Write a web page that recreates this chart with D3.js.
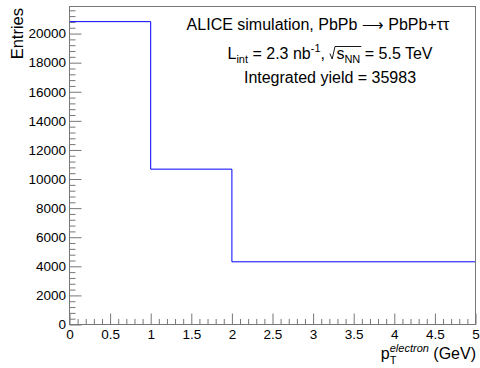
<!DOCTYPE html>
<html>
<head>
<meta charset="utf-8">
<script src="https://cdn.jsdelivr.net/npm/d3@7"></script>
<style>
  body { margin: 0; background: #fff; }
  text { font-family: "Liberation Sans", Arial, Helvetica, sans-serif; fill: #000; white-space: pre; }
</style>
</head>
<body>
<svg id="chart" width="480" height="368"></svg>
<script>
// DATA
const binEdges = [0, 1, 2, 5];
const binCounts = [20820, 10680, 4310];
const xTicks = [0, 0.5, 1, 1.5, 2, 2.5, 3, 3.5, 4, 4.5, 5];
const yTicks = [0, 2000, 4000, 6000, 8000, 10000, 12000, 14000, 16000, 18000, 20000];
const xMinorStep = 0.1;
const yMinorStep = 400;
const yieldValue = 35983;

// frame
const frame = { left: 69.5, right: 475.5, top: 6.5, bottom: 324.5 };
const axisColor = "#777";

const svg = d3.select("#chart");

const x = d3.scaleLinear().domain([0, 5]).range([frame.left, frame.right]);
const yMax = d3.max(binCounts) * 1.05;
const y = d3.scaleLinear().domain([0, yMax]).range([frame.bottom, frame.top]);

const xMinor = d3.range(0, 5 + 1e-9, xMinorStep).filter(v => Math.abs(v * 2 - Math.round(v * 2)) > 1e-6);
const yMinor = d3.range(0, yMax, yMinorStep).filter(v => v % 2000 !== 0);

// AXES (ticks point inward like ROOT)
function styleAxis(g) {
  g.select(".domain").remove();
  g.selectAll("line").attr("stroke", axisColor);
  g.selectAll("text").style("font-size", "13.5px").attr("fill", "#000");
}

svg.append("g")
  .attr("transform", `translate(0,${frame.bottom})`)
  .call(d3.axisBottom(x).tickValues(xMinor).tickFormat("").tickSizeInner(-5.5).tickSizeOuter(0))
  .call(styleAxis);
svg.append("g")
  .attr("transform", `translate(0,${frame.bottom})`)
  .call(d3.axisBottom(x).tickValues(xTicks).tickFormat(d3.format("")).tickSizeInner(-11).tickSizeOuter(0).tickPadding(4.5))
  .call(styleAxis);

svg.append("g")
  .attr("transform", `translate(${frame.left},0)`)
  .call(d3.axisLeft(y).tickValues(yMinor).tickFormat("").tickSizeInner(-6).tickSizeOuter(0))
  .call(styleAxis);
svg.append("g")
  .attr("transform", `translate(${frame.left},0)`)
  .call(d3.axisLeft(y).tickValues(yTicks).tickFormat(d3.format("d")).tickSizeInner(-12).tickSizeOuter(0).tickPadding(3.5))
  .call(styleAxis);

// HISTOGRAM as a step line
const stepPoints = binCounts.map((c, i) => [binEdges[i], c]);
stepPoints.push([binEdges[binEdges.length - 1], binCounts[binCounts.length - 1]]);
svg.append("path")
  .datum(stepPoints)
  .attr("fill", "none")
  .attr("stroke", "#0000ff")
  .attr("stroke-width", 1)
  .attr("d", d3.line().x(d => x(d[0])).y(d => y(d[1])).curve(d3.curveStepAfter));

// FRAME
svg.append("rect")
  .attr("x", frame.left).attr("y", frame.top)
  .attr("width", frame.right - frame.left).attr("height", frame.bottom - frame.top)
  .attr("fill", "none").attr("stroke", axisColor);

// rich text: parts laid out one after another, returns marks
function richText(parts, cx, baseY, align) {
  const g = svg.append("g");
  let cur = 0;
  const marks = {};
  parts.forEach(p => {
    if (p.gap) { if (p.mark) marks[p.mark] = cur; cur += p.gap; return; }
    const items = p.stack || [p];
    let w = 0;
    items.forEach(it => {
      const t = g.append("text")
        .attr("x", cur).attr("y", it.dy || 0)
        .attr("xml:space", "preserve")
        .style("font-size", (it.size || 16) + "px")
        .text(it.t);
      if (it.italic) t.style("font-style", "italic");
      w = Math.max(w, t.node().getComputedTextLength());
    });
    if (p.mark) marks[p.mark] = cur;
    cur += w;
    if (p.markEnd) marks[p.markEnd] = cur;
  });
  const x0 = align === "end" ? cx - cur : cx - cur / 2;
  g.attr("transform", `translate(${x0},${baseY})`);
  return { g, marks };
}

// TITLE TEXT
richText([
  { t: "ALICE simulation, PbPb " },
  { t: "\u27F6", size: 15, dy: -0.5 },
  { t: " PbPb+\u03c4\u03c4" }
], 318, 30);

const lumi = richText([
  { t: "L" },
  { t: "int", size: 11, dy: 4 },
  { t: " = 2.3 nb" },
  { t: "-1", size: 11, dy: -7 },
  { t: ", " },
  { gap: 7, mark: "rad" },
  { t: "s" },
  { t: "NN", size: 11, dy: 4, markEnd: "radEnd" },
  { t: " = 5.5 TeV" }
], 330, 59);
{
  const r0 = lumi.marks.rad, r1 = lumi.marks.radEnd;
  lumi.g.append("path")
    .attr("fill", "none").attr("stroke", "#000").attr("stroke-width", 0.9)
    .attr("d", `M${r0 + 0.5},-5.5 L${r0 + 2.8},0 L${r0 + 5.6},-12.5 L${r1 + 1},-12.5`);
}

richText([{ t: "Integrated yield = " + yieldValue }], 330, 83);

// AXIS TITLES
svg.append("text")
  .attr("transform", `translate(22.5,${frame.top + 1.5}) rotate(-90)`)
  .attr("text-anchor", "end")
  .style("font-size", "16.5px")
  .text("Entries");

richText([
  { t: "p" },
  { stack: [{ t: "T", size: 11, dy: 5 }, { t: "electron", size: 11, dy: -7, italic: true }] },
  { t: " (GeV)" }
], 476, 359, "end");
</script>
</body>
</html>
